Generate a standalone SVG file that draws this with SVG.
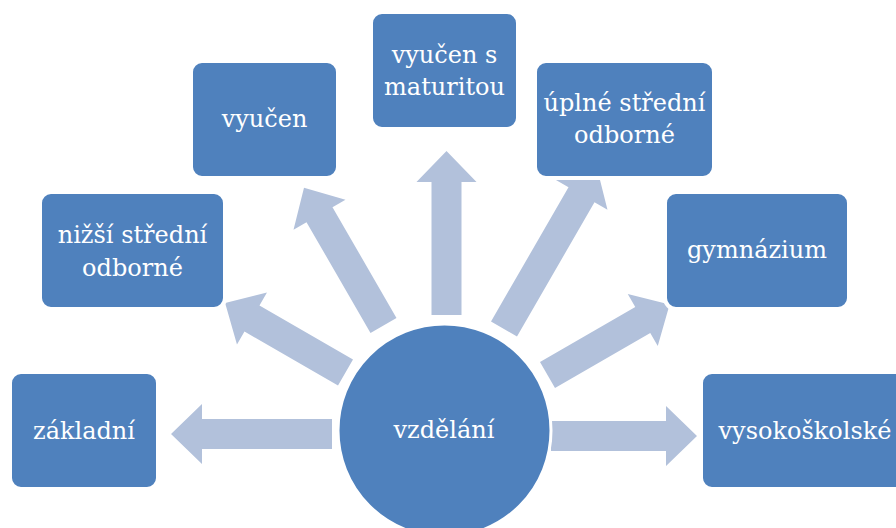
<svg xmlns="http://www.w3.org/2000/svg" width="896" height="528" viewBox="0 0 896 528">
  <style>
    .box { fill: #4F81BD; stroke: #FFFFFF; stroke-width: 4; }
    .arrow { fill: #B2C1DB; }
    .lbl { font-family: "DejaVu Serif", "Liberation Serif", serif; font-size: 24px; fill: #FFFFFF; text-anchor: middle; }
  </style>
  <rect width="896" height="528" fill="#FFFFFF"/>
  <g id="connectors">
    <polygon class="arrow" transform="translate(332,434) rotate(180)" points="0,-15 130,-15 130,-30 161,0 130,30 130,15 0,15"/>
    <polygon class="arrow" transform="translate(551,436)" points="0,-15 115,-15 115,-30 146,0 115,30 115,15 0,15"/>
    <polygon class="arrow" transform="translate(446.5,315) rotate(-90)" points="0,-15 133,-15 133,-30 164,0 133,30 133,15 0,15"/>
    <polygon class="arrow" transform="translate(383.5,325.5) rotate(-120)" points="0,-15 128,-15 128,-30 159,0 128,30 128,15 0,15"/>
    <polygon class="arrow" transform="translate(345.5,372.5) rotate(-150)" points="0,-15 108,-15 108,-30 139,0 108,30 108,15 0,15"/>
    <polygon class="arrow" transform="translate(504,329) rotate(-60)" points="0,-15 155,-15 155,-30 186,0 155,30 155,15 0,15"/>
    <polygon class="arrow" transform="translate(547.5,375) rotate(-30)" points="0,-15 110,-15 110,-30 141,0 110,30 110,15 0,15"/>
  </g>
  <g id="zakladni">
    <rect class="box" x="10" y="372" width="148" height="117" rx="11"/>
    <text class="lbl" x="84" y="439">základní</text>
  </g>
  <g id="nizsi-stredni-odborne">
    <rect class="box" x="40" y="192" width="185" height="117" rx="11"/>
    <text class="lbl" x="132.5" y="243">nižší střední</text>
    <text class="lbl" x="132.5" y="276">odborné</text>
  </g>
  <g id="vyucen">
    <rect class="box" x="191" y="61" width="147" height="117" rx="11"/>
    <text class="lbl" x="264.5" y="127">vyučen</text>
  </g>
  <g id="vyucen-s-maturitou">
    <rect class="box" x="371" y="12" width="147" height="117" rx="11"/>
    <text class="lbl" x="444.5" y="63">vyučen s</text>
    <text class="lbl" x="444.5" y="95">maturitou</text>
  </g>
  <g id="uplne-stredni-odborne">
    <rect class="box" x="535" y="61" width="179" height="117" rx="11"/>
    <text class="lbl" x="624.5" y="111">úplné střední</text>
    <text class="lbl" x="624.5" y="143">odborné</text>
  </g>
  <g id="gymnazium">
    <rect class="box" x="665" y="192" width="184" height="117" rx="11"/>
    <text class="lbl" x="757" y="258">gymnázium</text>
  </g>
  <g id="vysokoskolske">
    <rect class="box" x="701" y="372" width="208" height="117" rx="11"/>
    <text class="lbl" x="805" y="439">vysokoškolské</text>
  </g>
  <g id="vzdelani">
    <circle cx="444.5" cy="430.5" r="106.5" fill="#4F81BD" stroke="#FFFFFF" stroke-width="3"/>
    <text class="lbl" x="444" y="438">vzdělání</text>
  </g>
</svg>
